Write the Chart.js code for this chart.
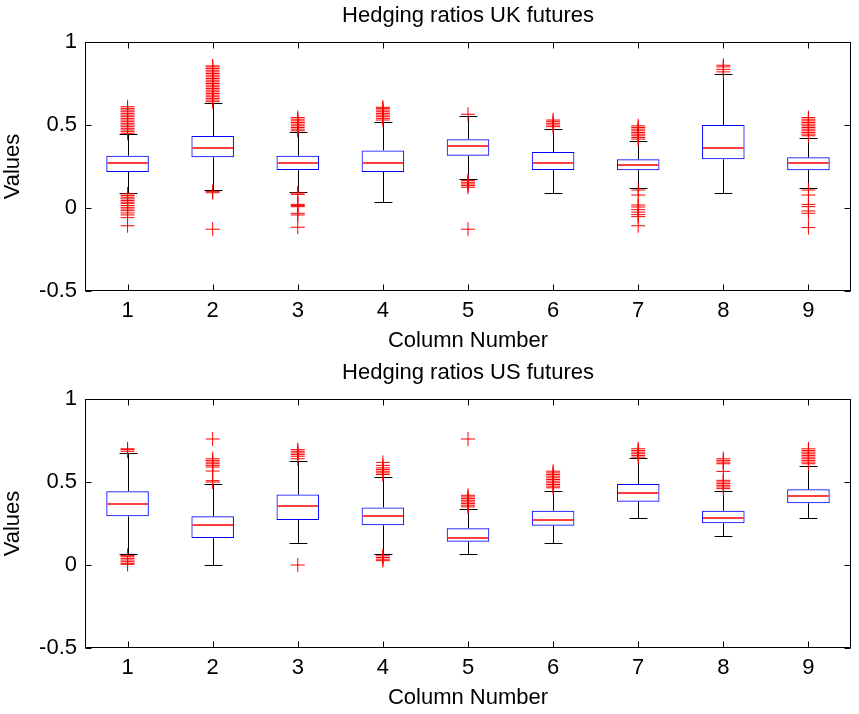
<!DOCTYPE html>
<html>
<head>
<meta charset="utf-8">
<title>Hedging ratios</title>
<script src="https://cdn.jsdelivr.net/npm/chart.js@4.4.1/dist/chart.umd.min.js"></script>
<style>
  html, body { margin: 0; padding: 0; background: #fff; }
  .panel { width: 859px; height: 357px; }
</style>
</head>
<body>
<div class="panel"><canvas id="ukChart" width="859" height="357"></canvas></div>
<div class="panel"><canvas id="usChart" width="859" height="357"></canvas></div>
<script>
const columns = ['1', '2', '3', '4', '5', '6', '7', '8', '9'];
const yTicks = [-0.5, 0, 0.5, 1];

// UK futures
const ukLow    = [0.088, 0.108, 0.096, 0.034, 0.175, 0.088, 0.122, 0.088, 0.122];
const ukQ1     = [0.217, 0.305, 0.229, 0.217, 0.315, 0.229, 0.228, 0.293, 0.228];
const ukMedian = [0.271, 0.361, 0.271, 0.271, 0.371, 0.274, 0.261, 0.360, 0.274];
const ukQ3     = [0.315, 0.434, 0.315, 0.347, 0.414, 0.338, 0.293, 0.500, 0.305];
const ukHigh   = [0.446, 0.631, 0.456, 0.520, 0.556, 0.478, 0.404, 0.805, 0.424];
const ukOutliers = [
  [0.45, 0.46, 0.47, 0.48, 0.49, 0.50, 0.51, 0.52, 0.53, 0.54, 0.55, 0.56, 0.57, 0.58, 0.59, 0.60, 0.61,
   0.085, 0.075, 0.065, 0.055, 0.045, 0.035, 0.028, 0.015, 0.004, -0.006, -0.016, -0.03, -0.042, -0.058, -0.107],
  [0.64, 0.65, 0.66, 0.67, 0.68, 0.69, 0.70, 0.71, 0.72, 0.73, 0.74, 0.75, 0.76, 0.77, 0.78, 0.79, 0.80,
   0.81, 0.82, 0.83, 0.84, 0.85, 0.856, 0.1, 0.092, -0.128],
  [0.465, 0.475, 0.485, 0.495, 0.505, 0.515, 0.525, 0.535, 0.545,
   0.09, 0.082, 0.022, 0.015, 0.008, -0.032, -0.042, -0.116],
  [0.53, 0.54, 0.55, 0.56, 0.57, 0.58, 0.59, 0.60, 0.607],
  [0.565, 0.165, 0.155, 0.145, 0.135, 0.125, -0.128],
  [0.49, 0.50, 0.51, 0.52, 0.53],
  [0.415, 0.425, 0.435, 0.445, 0.455, 0.465, 0.475, 0.485, 0.495,
   0.108, 0.078, 0.018, 0.006, -0.01, -0.025, -0.04, -0.052, -0.107],
  [0.82, 0.835, 0.85, 0.86],
  [0.435, 0.445, 0.455, 0.465, 0.475, 0.485, 0.495, 0.505, 0.515, 0.525, 0.535, 0.545,
   0.108, 0.078, 0.022, 0.008, -0.018, -0.032, -0.118]
];

// US futures
const usLow    = [0.066, 0.002, 0.131, 0.066, 0.066, 0.131, 0.283, 0.175, 0.283];
const usQ1     = [0.293, 0.163, 0.271, 0.239, 0.140, 0.237, 0.381, 0.251, 0.372];
const usMedian = [0.370, 0.239, 0.358, 0.293, 0.165, 0.273, 0.436, 0.283, 0.414];
const usQ3     = [0.445, 0.293, 0.424, 0.347, 0.221, 0.327, 0.488, 0.327, 0.456];
const usHigh   = [0.673, 0.490, 0.628, 0.532, 0.337, 0.448, 0.643, 0.448, 0.598];
const usOutliers = [
  [0.685, 0.695, 0.70, 0.058, 0.05, 0.04, 0.03, 0.02, 0.01, 0.004],
  [0.50, 0.508, 0.566, 0.59, 0.60, 0.61, 0.62, 0.63, 0.64, 0.759],
  [0.64, 0.655, 0.665, 0.675, 0.685, 0.695, 0.0],
  [0.545, 0.555, 0.565, 0.575, 0.585, 0.60, 0.618, 0.055, 0.045, 0.035, 0.026],
  [0.35, 0.36, 0.37, 0.38, 0.39, 0.40, 0.41, 0.42, 0.759],
  [0.465, 0.475, 0.485, 0.495, 0.505, 0.515, 0.525, 0.535, 0.545, 0.555, 0.565],
  [0.65, 0.66, 0.67, 0.68, 0.69, 0.70],
  [0.46, 0.47, 0.48, 0.49, 0.50, 0.51, 0.564, 0.61, 0.62, 0.63, 0.64],
  [0.61, 0.62, 0.63, 0.64, 0.65, 0.66, 0.67, 0.68, 0.69, 0.70]
];

Chart.defaults.font.family = '"Liberation Sans", Arial, Helvetica, sans-serif';
Chart.defaults.font.size = 22;
Chart.defaults.color = '#000';

// whiskers + caps under the boxes, median on top
const whiskerPlugin = {
  id: 'whiskers',
  beforeDatasetsDraw(chart, args, opts) {
    const ctx = chart.ctx, y = chart.scales.y;
    const bars = chart.getDatasetMeta(0).data;
    ctx.save();
    ctx.strokeStyle = '#000';
    ctx.lineWidth = 1;
    bars.forEach((bar, i) => {
      const x = Math.round(bar.x) + 0.5;
      const cap = bar.width * 0.21;
      const segs = [[opts.q3[i], opts.high[i]], [opts.q1[i], opts.low[i]]];
      segs.forEach(([from, to]) => {
        const yt = Math.round(y.getPixelForValue(to)) + 0.5;
        ctx.beginPath();
        ctx.moveTo(x, y.getPixelForValue(from));
        ctx.lineTo(x, yt);
        ctx.moveTo(x - cap, yt);
        ctx.lineTo(x + cap, yt);
        ctx.stroke();
      });
    });
    ctx.restore();
  },
  afterDatasetDraw(chart, args, opts) {
    if (args.index !== 0) return;
    const ctx = chart.ctx, y = chart.scales.y;
    ctx.save();
    ctx.strokeStyle = '#ff0000';
    ctx.lineWidth = 1.5;
    args.meta.data.forEach((bar, i) => {
      const ym = Math.round(y.getPixelForValue(opts.median[i]));
      ctx.beginPath();
      ctx.moveTo(bar.x - bar.width / 2 + 1, ym);
      ctx.lineTo(bar.x + bar.width / 2 - 1, ym);
      ctx.stroke();
    });
    ctx.restore();
  }
};

// boxed axes with inward ticks on all four sides
const framePlugin = {
  id: 'frame',
  afterDraw(chart) {
    const {ctx, chartArea: a, scales: {x, y}} = chart;
    const L = Math.round(a.left) + 0.5, R = Math.round(a.right) - 0.5;
    const T = Math.round(a.top) + 0.5, B = Math.round(a.bottom) - 0.5;
    const len = 6;
    ctx.save();
    ctx.strokeStyle = '#000';
    ctx.lineWidth = 1;
    ctx.strokeRect(L, T, R - L, B - T);
    ctx.beginPath();
    columns.forEach((c, i) => {
      const px = Math.round(x.getPixelForValue(i)) + 0.5;
      ctx.moveTo(px, T); ctx.lineTo(px, T + len);
      ctx.moveTo(px, B); ctx.lineTo(px, B - len);
    });
    yTicks.forEach(v => {
      const py = Math.round(y.getPixelForValue(v)) + 0.5;
      ctx.moveTo(L, py); ctx.lineTo(L + len, py);
      ctx.moveTo(R, py); ctx.lineTo(R - len, py);
    });
    ctx.stroke();
    ctx.restore();
  }
};

function boxChart(id, title, low, q1, median, q3, high, outliers) {
  const boxes = q1.map((v, i) => [v, q3[i]]);
  const points = [];
  outliers.forEach((list, i) => list.forEach(v => points.push({x: columns[i], y: v})));

  return new Chart(document.getElementById(id), {
    type: 'bar',
    data: {
      labels: columns,
      datasets: [
        {
          data: boxes,
          backgroundColor: 'rgba(0,0,0,0)',
          borderColor: '#0000ff',
          borderWidth: 1,
          borderSkipped: false,
          barPercentage: 0.5,
          categoryPercentage: 1
        },
        {
          type: 'scatter',
          data: points,
          pointStyle: 'cross',
          pointRadius: 7,
          pointBorderWidth: 1,
          borderColor: '#ff0000',
          backgroundColor: '#ff0000'
        }
      ]
    },
    options: {
      responsive: false,
      animation: false,
      events: [],
      layout: { padding: { left: 0, right: 1, top: 0, bottom: 0 } },
      plugins: {
        legend: { display: false },
        tooltip: { enabled: false },
        title: {
          display: true,
          text: title,
          fullSize: false,
          font: { size: 22, weight: 'normal' },
          padding: { top: 3, bottom: 12.6 }
        },
        whiskers: { low, q1, median, q3, high }
      },
      scales: {
        x: {
          type: 'category',
          offset: true,
          grid: { display: false, drawTicks: false },
          border: { display: false },
          ticks: { padding: 7, maxRotation: 0 },
          title: { display: true, text: 'Column Number', padding: { top: 0, bottom: 3 } },
          afterFit(s) { s.height = 66; }
        },
        y: {
          min: -0.5,
          max: 1,
          grid: { display: false, drawTicks: false },
          border: { display: false },
          ticks: { padding: 8, callback: v => String(v) },
          afterBuildTicks(s) { s.ticks = yTicks.map(v => ({ value: v })); },
          title: { display: true, text: 'Values', font: { lineHeight: 1.1 }, padding: { top: 1, bottom: 0 } },
          afterFit(s) { s.width = 85; }
        }
      }
    },
    plugins: [whiskerPlugin, framePlugin]
  });
}

boxChart('ukChart', 'Hedging ratios UK futures', ukLow, ukQ1, ukMedian, ukQ3, ukHigh, ukOutliers);
boxChart('usChart', 'Hedging ratios US futures', usLow, usQ1, usMedian, usQ3, usHigh, usOutliers);
</script>
</body>
</html>
